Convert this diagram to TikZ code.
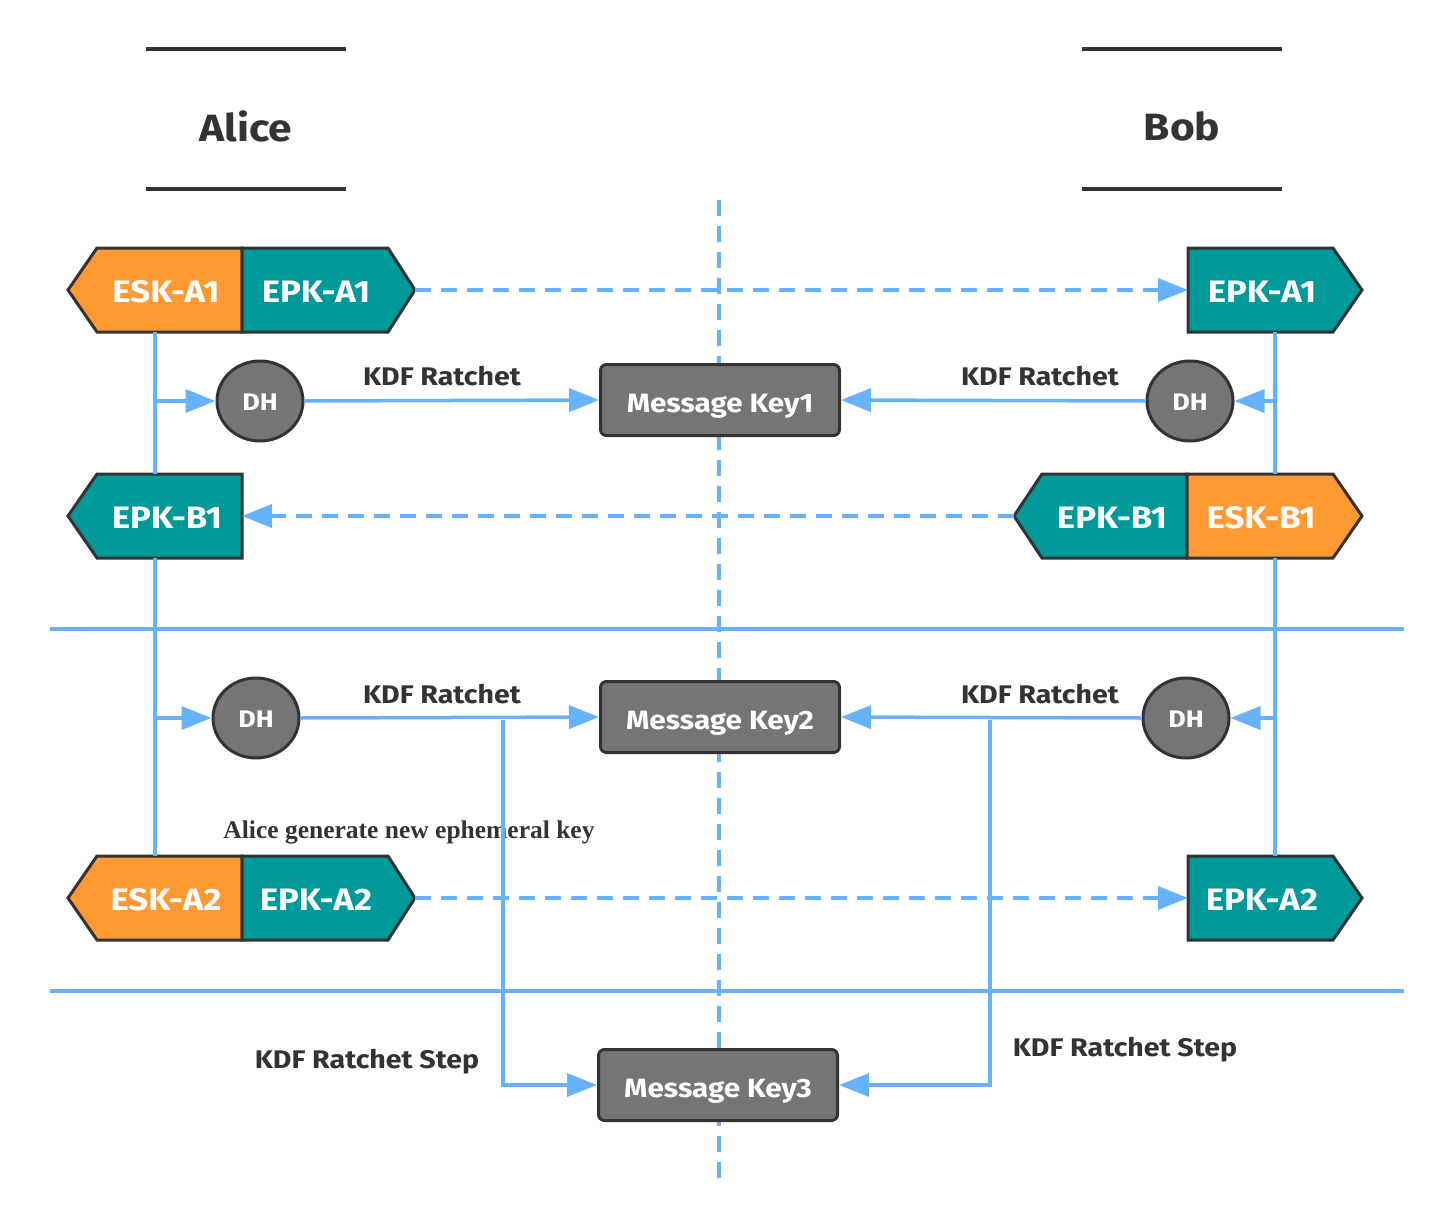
\documentclass[tikz,border=0pt]{standalone}
\usepackage{fontspec}
\setmainfont{Fira Sans}[FakeStretch=1.12]
\newfontfamily\timesb{Liberation Serif}
\usetikzlibrary{arrows.meta,shapes.geometric}
\definecolor{ink}{HTML}{333333}
\definecolor{wire}{HTML}{66B2FF}
\definecolor{keyorange}{HTML}{FF9933}
\definecolor{keyteal}{HTML}{009999}
\definecolor{boxgray}{HTML}{757575}
\tikzset{
  keypart/.style={draw=ink,line width=3pt,line join=miter},
  esk/.style={keypart,fill=keyorange},
  epk/.style={keypart,fill=keyteal},
  keytext/.style={text=white,font=\bfseries\fontsize{31}{36}\selectfont,inner sep=0pt},
  msgkey/.style={draw=ink,fill=boxgray,line width=3pt,rounded corners=6pt,minimum width=239pt,minimum height=71pt,text height=28pt,text depth=4pt,text=white,font=\bfseries\fontsize{26.5}{31}\selectfont},
  dhnode/.style={ellipse,draw=ink,fill=boxgray,line width=3pt,minimum width=86pt,minimum height=80pt,inner sep=0pt,text height=20pt,text depth=2pt,text=white,font=\bfseries\fontsize{24}{28}\selectfont},
  lbl/.style={text=ink,font=\bfseries\fontsize{25.5}{30}\selectfont,inner sep=0pt},
  actor/.style={text=ink,font=\bfseries\fontsize{38}{44}\selectfont},
  wireline/.style={draw=wire,line width=3.5pt},
  arr/.style={wireline,-{Triangle[length=30pt,width=23pt]}},
  dasharr/.style={arr,dash pattern=on 16pt off 10pt},
  sep/.style={draw=wire,line width=3.5pt},
  header/.style={draw=ink,line width=3.5pt},
}
\begin{document}
\begin{tikzpicture}[x=1pt,y=-1pt]
\useasboundingbox (0,0) rectangle (1454,1228);

% actors
\draw[header] (146,49) -- (346,49);
\draw[header] (146,189) -- (346,189);
\node[actor] (alice) at (246,126) {Alice};
\draw[header] (1082,49) -- (1282,49);
\draw[header] (1082,189) -- (1282,189);
\node[actor] (bob) at (1182,126) {Bob};

% note
\node[text=ink,font=\timesb\bfseries\fontsize{25.5}{30}\selectfont] (note) at (409,832) {Alice generate new ephemeral key};

% centre divider and phase separators
\coordinate (ctop) at (719,200);
\coordinate (cbot) at (719,1178);
\draw[wireline,dash pattern=on 16pt off 10pt] (ctop) -- (cbot);
\coordinate (s1l) at (50,629);
\coordinate (s1r) at (1404,629);
\coordinate (s2l) at (50,991);
\coordinate (s2r) at (1404,991);
\draw[sep] (s1l) -- (s1r);
\draw[sep] (s2l) -- (s2r);

% key boxes, row 1
\draw[esk] (68,290) -- (97,248) -- (242,248) -- (242,332) -- (97,332) -- cycle;
\draw[epk] (242,248) -- (388,248) -- (415,290) -- (388,332) -- (242,332) -- cycle;
\node[keytext] (eska1) at (166,292) {ESK-A1};
\node[keytext] (epka1) at (316,292) {EPK-A1};
\draw[epk] (1188,248) -- (1333,248) -- (1362,290) -- (1333,332) -- (1188,332) -- cycle;
\node[keytext] (bepka1) at (1262,292) {EPK-A1};
\coordinate (a1tip) at (415,290);
\coordinate (b1in) at (1188,290);

% key boxes, row 2
\draw[epk] (68,516) -- (97,474) -- (242,474) -- (242,558) -- (97,558) -- cycle;
\node[keytext] (aepkb1) at (167,518) {EPK-B1};
\draw[epk] (1014,516) -- (1042,474) -- (1187,474) -- (1187,558) -- (1042,558) -- cycle;
\draw[esk] (1187,474) -- (1333,474) -- (1362,516) -- (1333,558) -- (1187,558) -- cycle;
\node[keytext] (epkb1) at (1112,518) {EPK-B1};
\node[keytext] (eskb1) at (1261,518) {ESK-B1};
\coordinate (b2tip) at (1014,516);
\coordinate (a2in) at (242,516);

% key boxes, row 3
\draw[esk] (68,898) -- (97,856) -- (242,856) -- (242,940) -- (97,940) -- cycle;
\draw[epk] (242,856) -- (388,856) -- (415,898) -- (388,940) -- (242,940) -- cycle;
\node[keytext] (eska2) at (166,900) {ESK-A2};
\node[keytext] (epka2) at (316,900) {EPK-A2};
\draw[epk] (1188,856) -- (1333,856) -- (1362,898) -- (1333,940) -- (1188,940) -- cycle;
\node[keytext] (bepka2) at (1262,900) {EPK-A2};
\coordinate (a3tip) at (415,898);
\coordinate (b3in) at (1188,898);

% key exchange
\draw[dasharr] (a1tip) -- (b1in);
\draw[dasharr] (b2tip) -- (a2in);
\draw[dasharr] (a3tip) -- (b3in);

% Diffie-Hellman and message keys
\node[dhnode] (dh1) at (260,401) {DH};
\node[dhnode] (dh2) at (1190,401) {DH};
\node[msgkey] (mk1) at (720,400) {Message Key1};
\node[dhnode] (dh3) at (256,718) {DH};
\node[dhnode] (dh4) at (1186,718) {DH};
\node[msgkey] (mk2) at (720,717) {Message Key2};
\node[msgkey] (mk3) at (718,1085) {Message Key3};

% Alice lifeline
\coordinate (al1t) at (155,332);
\coordinate (al1b) at (155,474);
\coordinate (al2t) at (155,558);
\coordinate (al2b) at (155,856);
\coordinate (alb1) at (155,401);
\coordinate (alb2) at (155,718);
\draw[wireline] (al1t) -- (al1b);
\draw[wireline] (al2t) -- (al2b);
\draw[arr] (alb1) -- (dh1.west);
\draw[arr] (alb2) -- (dh3.west);

% Bob lifeline
\coordinate (bl1t) at (1275,332);
\coordinate (bl1b) at (1275,474);
\coordinate (bl2t) at (1275,558);
\coordinate (bl2b) at (1275,856);
\coordinate (blb1) at (1275,401);
\coordinate (blb2) at (1275,718);
\draw[wireline] (bl1t) -- (bl1b);
\draw[wireline] (bl2t) -- (bl2b);
\draw[arr] (blb1) -- (dh2.east);
\draw[arr] (blb2) -- (dh4.east);

% KDF ratchets
\draw[arr] (dh1.east) -- (mk1.west);
\draw[arr] (dh2.west) -- (mk1.east);
\draw[arr] (dh3.east) -- (mk2.west);
\draw[arr] (dh4.west) -- (mk2.east);
\node[lbl] (k1) at (442,376) {KDF Ratchet};
\node[lbl] (k2) at (1040,376) {KDF Ratchet};
\node[lbl] (k3) at (442,694) {KDF Ratchet};
\node[lbl] (k4) at (1040,694) {KDF Ratchet};

% ratchet steps
\coordinate (st1) at (503,720);
\coordinate (st2) at (990,720);
\draw[arr] (st1) |- (mk3.west);
\draw[arr] (st2) |- (mk3.east);
\node[lbl] (ks1) at (367,1062) {KDF Ratchet Step};
\node[lbl] (ks2) at (1125,1050) {KDF Ratchet Step};
\end{tikzpicture}
\end{document}
